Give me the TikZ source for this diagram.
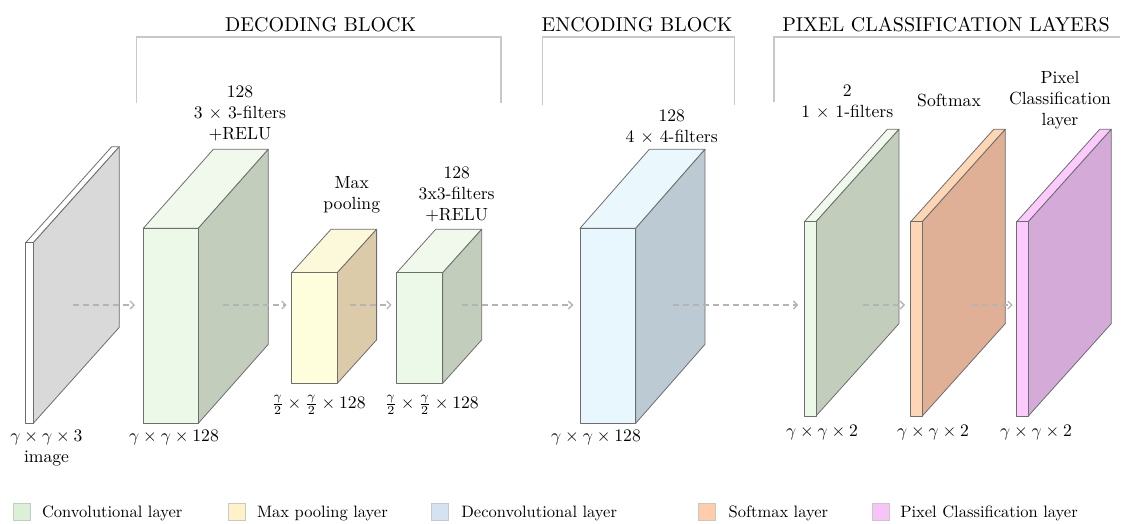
\documentclass[tikz,border=0pt]{standalone}
\usetikzlibrary{arrows.meta}
\definecolor{edgec}{HTML}{6E6E6E}
\definecolor{imgside}{HTML}{D9D9D9}
\definecolor{gfront}{HTML}{ECF8E8}
\definecolor{gtop}{HTML}{F0F9EC}
\definecolor{gside}{HTML}{C2CDBB}
\definecolor{yfront}{HTML}{FEFDDC}
\definecolor{ytop}{HTML}{FCF9DA}
\definecolor{yside}{HTML}{DCCBA9}
\definecolor{bfront}{HTML}{E8F6FD}
\definecolor{btop}{HTML}{EAF7FC}
\definecolor{bside}{HTML}{BCCAD4}
\definecolor{ofront}{HTML}{FDD6B5}
\definecolor{oside}{HTML}{DFB095}
\definecolor{pfront}{HTML}{FDCAFD}
\definecolor{pside}{HTML}{D4AAD8}
\definecolor{arrc}{HTML}{B4B4B4}
\definecolor{brkc}{HTML}{C8C8C8}
\definecolor{lgreen}{HTML}{DCF0D6}
\definecolor{lyellow}{HTML}{FFF1C8}
\definecolor{lblue}{HTML}{D4E2F2}
\definecolor{lorange}{HTML}{FFCDAA}
\definecolor{lpink}{HTML}{F8C4F8}
\newcommand\layerbox[9]{%
  \filldraw[boxedge, fill=#8] (#1,#2) -- ({#1+#5},{#2-#6}) -- ({#1+#3+#5},{#2-#6}) -- ({#1+#3},#2) -- cycle;
  \filldraw[boxedge, fill=#9] ({#1+#3},#2) -- ({#1+#3+#5},{#2-#6}) -- ({#1+#3+#5},{#2+#4-#6}) -- ({#1+#3},{#2+#4}) -- cycle;
  \filldraw[boxedge, fill=#7] (#1,#2) rectangle ({#1+#3},{#2+#4});
}
\tikzset{
  boxedge/.style={draw=edgec, line width=0.8pt, line join=round},
  flow/.style={draw=arrc, line width=1.3pt, dash pattern=on 6pt off 4pt, -{Straight Barb[length=4pt,width=8pt]}},
  lbl/.style={inner sep=0pt, align=center, font=\fontsize{10}{12}\selectfont, scale=1.76},
  hdr/.style={inner sep=0pt, font=\fontsize{10}{12}\selectfont, scale=2.0},
  brk/.style={draw=brkc, line width=1.4pt},
  legsq/.style={draw=brkc, line width=0.8pt, minimum size=17pt, inner sep=0pt},
  legtxt/.style={inner sep=0pt, anchor=base west, font=\fontsize{10}{12}\selectfont, scale=1.65}
}
\begin{document}
\begin{tikzpicture}[x=1pt,y=-1pt]
\useasboundingbox (0,0) rectangle (1122,523);
% blocks
\layerbox{25.7}{242.7}{7.6}{180.6}{86}{96}{white}{white}{imgside}
\layerbox{143.3}{228.3}{55}{195}{70}{79}{gfront}{gtop}{gside}
\layerbox{291.7}{272.7}{45.6}{110.6}{39.3}{43.4}{yfront}{ytop}{yside}
\layerbox{396.7}{272.7}{46}{110.6}{39}{43.4}{gfront}{gtop}{gside}
\layerbox{580}{228.3}{55.7}{195}{69.3}{79}{bfront}{btop}{bside}
\layerbox{804.3}{221.7}{11.7}{194.3}{83}{92.4}{gfront}{gtop}{gside}
\layerbox{910.7}{221.7}{11.6}{194.3}{83}{92.4}{ofront}{ofront}{oside}
\layerbox{1016.7}{221.7}{11.6}{194.3}{83}{92.4}{pfront}{pfront}{pside}
% arrow end points
\coordinate (a1s) at (72.7,305);  \coordinate (a1e) at (135,305);
\coordinate (a2s) at (223.3,305); \coordinate (a2e) at (286.7,305);
\coordinate (a3s) at (350,305);   \coordinate (a3e) at (391.7,305);
\coordinate (a4s) at (461.7,305); \coordinate (a4e) at (573.3,305);
\coordinate (a5s) at (673.3,305); \coordinate (a5e) at (798.3,305);
\coordinate (a6s) at (863.3,305); \coordinate (a6e) at (905,305);
\coordinate (a7s) at (971.7,305); \coordinate (a7e) at (1012.7,305);
\draw[flow] (a1s) -- (a1e);
\draw[flow] (a2s) -- (a2e);
\draw[flow] (a3s) -- (a3e);
\draw[flow] (a4s) -- (a4e);
\draw[flow] (a5s) -- (a5e);
\draw[flow] (a6s) -- (a6e);
\draw[flow] (a7s) -- (a7e);
% bottom labels
\node[lbl] (bimg) at (46.5,448) {$\gamma\times\gamma\times 3$\\image};
\node[lbl] (bconv1) at (174,438) {$\gamma\times\gamma\times 128$};
\node[lbl] (bpool) at (318.5,405) {$\frac{\gamma}{2}\times\frac{\gamma}{2}\times 128$};
\node[lbl] (bconv2) at (431.7,405) {$\frac{\gamma}{2}\times\frac{\gamma}{2}\times 128$};
\node[lbl] (bdeconv) at (596,438) {$\gamma\times\gamma\times 128$};
\node[lbl] (bc3) at (822,433) {$\gamma\times\gamma\times 2$};
\node[lbl] (bsm) at (933,433) {$\gamma\times\gamma\times 2$};
\node[lbl] (bpx) at (1036,433) {$\gamma\times\gamma\times 2$};
% top labels
\node[lbl] (tconv1) at (240,113) {128\\3 $\times$ 3-filters\\+RELU};
\node[lbl] (tpool) at (351.7,194.5) {Max\\pooling};
\node[lbl] (tconv2) at (456.7,194) {128\\3x3-filters\\+RELU};
\node[lbl] (tdeconv) at (671.7,127) {128\\4 $\times$ 4-filters};
\node[lbl] (tc3) at (847.3,101.7) {2\\1 $\times$ 1-filters};
\node[lbl] (tsm) at (949,100.7) {Softmax};
\node[lbl] (tpx) at (1060,100) {Pixel\\Classification\\layer};
% headers and brackets
\node[hdr] (h1) at (320.7,25) {DECODING BLOCK};
\node[hdr] (h2) at (637,25) {ENCODING BLOCK};
\node[hdr] (h3) at (946,25) {PIXEL CLASSIFICATION LAYERS};
\draw[brk] (136.7,103) -- (136.7,37) -- (501,37) -- (501,103);
\draw[brk] (542.3,105) -- (542.3,37) -- (734.3,37) -- (734.3,105);
\draw[brk] (774,102) -- (774,37) -- (1120,37);
% legend
\node[legsq, fill=lgreen] (lg1) at (21.7,512) {};
\node[legtxt] (lt1) at (41.7,517) {Convolutional layer};
\node[legsq, fill=lyellow] (lg2) at (236.7,512) {};
\node[legtxt] (lt2) at (256.7,517) {Max pooling layer};
\node[legsq, fill=lblue] (lg3) at (440,512) {};
\node[legtxt] (lt3) at (461,517) {Deconvolutional layer};
\node[legsq, fill=lorange] (lg4) at (706.7,512) {};
\node[legtxt] (lt4) at (728.3,517) {Softmax layer};
\node[legsq, fill=lpink] (lg5) at (880.7,512) {};
\node[legtxt] (lt5) at (900,517) {Pixel Classification layer};
\end{tikzpicture}
\end{document}
